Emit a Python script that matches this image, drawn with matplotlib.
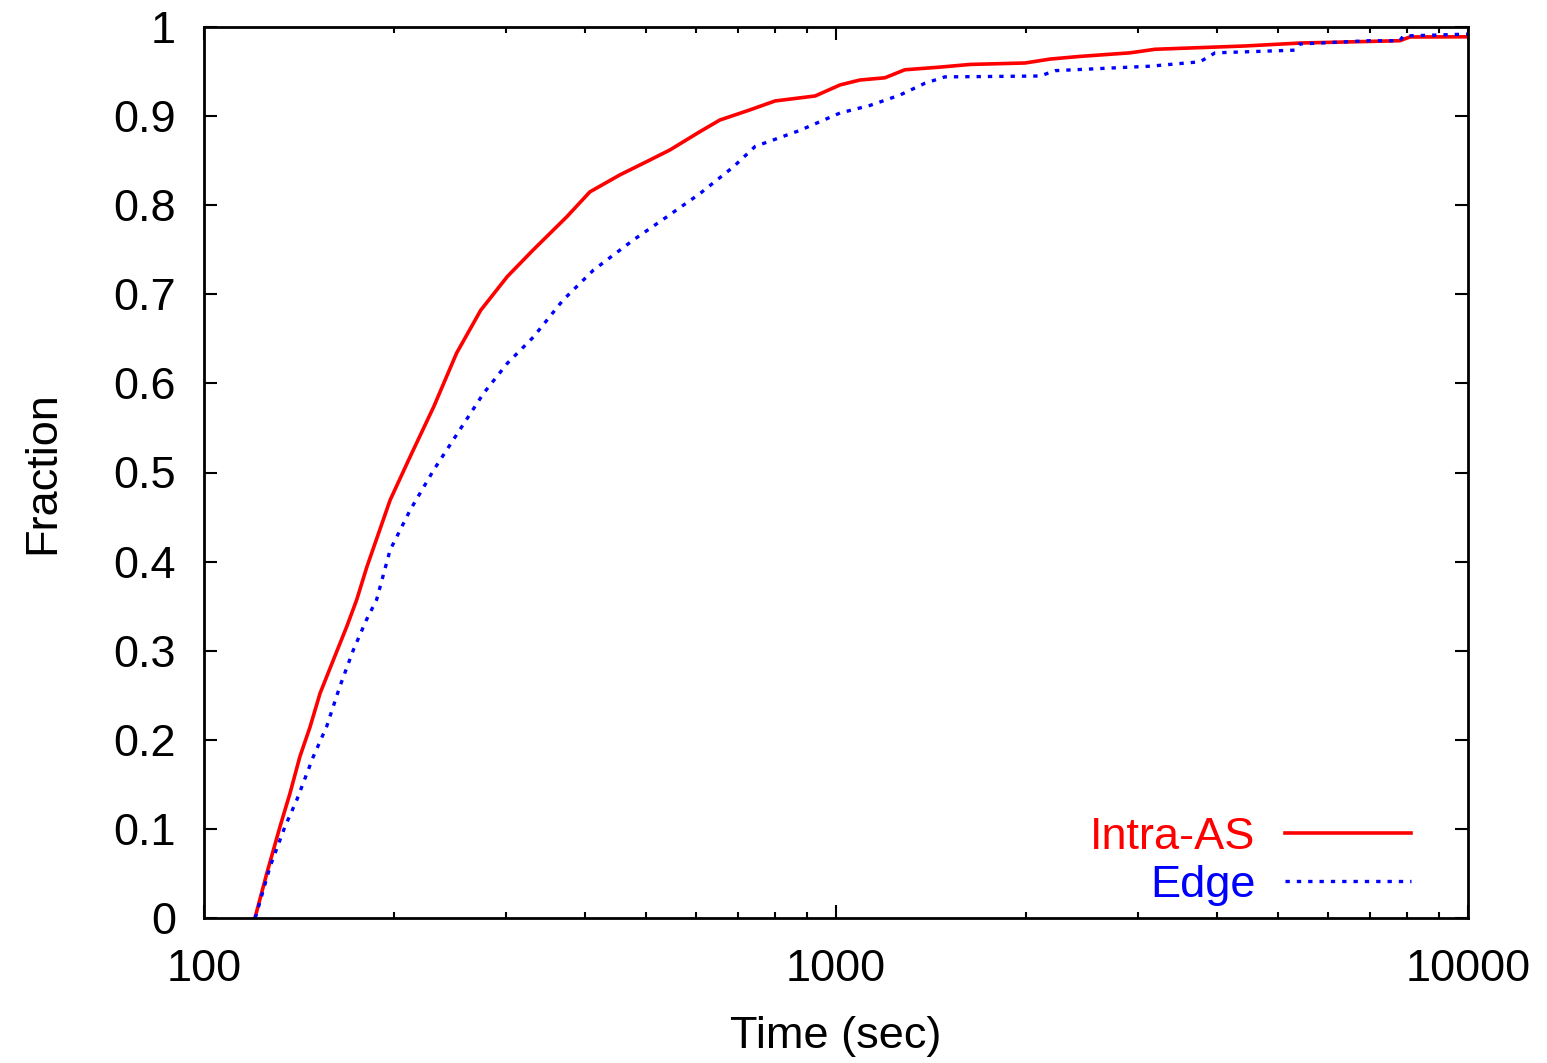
import matplotlib; matplotlib.use('Agg')
import matplotlib.pyplot as plt
from matplotlib.ticker import FixedLocator, LogLocator, NullFormatter

# CDF
intra_x = [120.4, 125.7, 131.9, 136.8, 141.8, 147.2, 152.6, 160.2, 168.2, 174.4,
           181, 197, 212, 231, 251, 274, 302, 332, 375, 408, 455, 502, 546,
           609, 655, 731, 801, 927, 1015, 1091, 1195, 1285, 1462, 1631, 1991,
           2182, 2433, 2919, 3198, 4440, 5420, 7800, 8090, 10000]
intra_y = [0.0, 0.05, 0.1025, 0.14, 0.181, 0.2147, 0.252, 0.2896, 0.327, 0.357,
           0.394, 0.469, 0.518, 0.574, 0.634, 0.682, 0.72, 0.75, 0.787, 0.815,
           0.834, 0.849, 0.862, 0.8825, 0.8956, 0.907, 0.917, 0.9226, 0.935,
           0.9405, 0.943, 0.952, 0.955, 0.958, 0.9596, 0.964, 0.967, 0.971,
           0.975, 0.9787, 0.982, 0.9846, 0.9888, 0.989]

edge_x = [120.4, 121, 127.2, 134.3, 140.2, 148.9, 156.3, 164, 172.3, 180.7,
          187.5, 197, 212, 231, 254, 277, 302, 332, 370, 413, 478, 540, 609,
          688, 745, 877, 1015, 1132, 1262, 1384, 1487, 2104, 2221, 3140, 3768,
          3980, 5321, 5420, 7000, 7800, 7900, 10000]
edge_y = [0.0, 0.004, 0.0576, 0.1025, 0.1324, 0.181, 0.2147, 0.2596, 0.3008,
          0.3345, 0.357, 0.413, 0.458, 0.503, 0.548, 0.589, 0.6226, 0.652,
          0.6936, 0.727, 0.761, 0.787, 0.813, 0.843, 0.866, 0.884, 0.9035,
          0.912, 0.9236, 0.937, 0.944, 0.945, 0.951, 0.956, 0.961, 0.971,
          0.974, 0.981, 0.9846, 0.9846, 0.9899, 0.992]

yticks = [0, 0.1, 0.2, 0.3, 0.4, 0.5, 0.6, 0.7, 0.8, 0.9, 1]
ylabels = ['0', '0.1', '0.2', '0.3', '0.4', '0.5', '0.6', '0.7', '0.8', '0.9', '1']

plt.rcParams['font.family'] = ['Liberation Sans', 'DejaVu Sans']
plt.rcParams['font.size'] = 32.5

fig = plt.figure(figsize=(15.47, 10.63), dpi=100)
ax = fig.add_axes([204 / 1547, 1 - 918 / 1063, 1264 / 1547, 891 / 1063])

ax.plot(intra_x, intra_y, color='#ff0000', lw=2.6, label='Intra-AS')
ax.plot(edge_x, edge_y, color='#0000ff', lw=2.4, dashes=(1.3, 2.1), label='Edge')

ax.set_xscale('log')
ax.set_xlim(100, 10000)
ax.set_ylim(0, 1)
ax.xaxis.set_major_locator(FixedLocator([100, 1000, 10000]))
ax.set_xticklabels(['100', '1000', '10000'])
ax.xaxis.set_minor_locator(LogLocator(base=10, subs=range(2, 10)))
ax.xaxis.set_minor_formatter(NullFormatter())
ax.set_yticks(yticks)
ax.set_yticklabels(ylabels)

ax.tick_params(which='both', direction='in', top=True, right=True, width=1.5)
ax.tick_params(which='major', length=9.5)
ax.tick_params(which='minor', length=4.5)
ax.tick_params(axis='x', pad=22)
ax.tick_params(axis='y', pad=20)
for s in ax.spines.values():
    s.set_linewidth(2)

ax.set_xlabel('Time (sec)', labelpad=19)
ax.set_ylabel('Fraction', labelpad=36)

ax.legend(loc='lower right', bbox_to_anchor=(0.955, 0.014), frameon=False,
          markerfirst=False, labelcolor='linecolor', handlelength=2.8,
          handletextpad=0.65, labelspacing=0.15, borderpad=0, borderaxespad=0)

plt.savefig('out.png', dpi=100)
